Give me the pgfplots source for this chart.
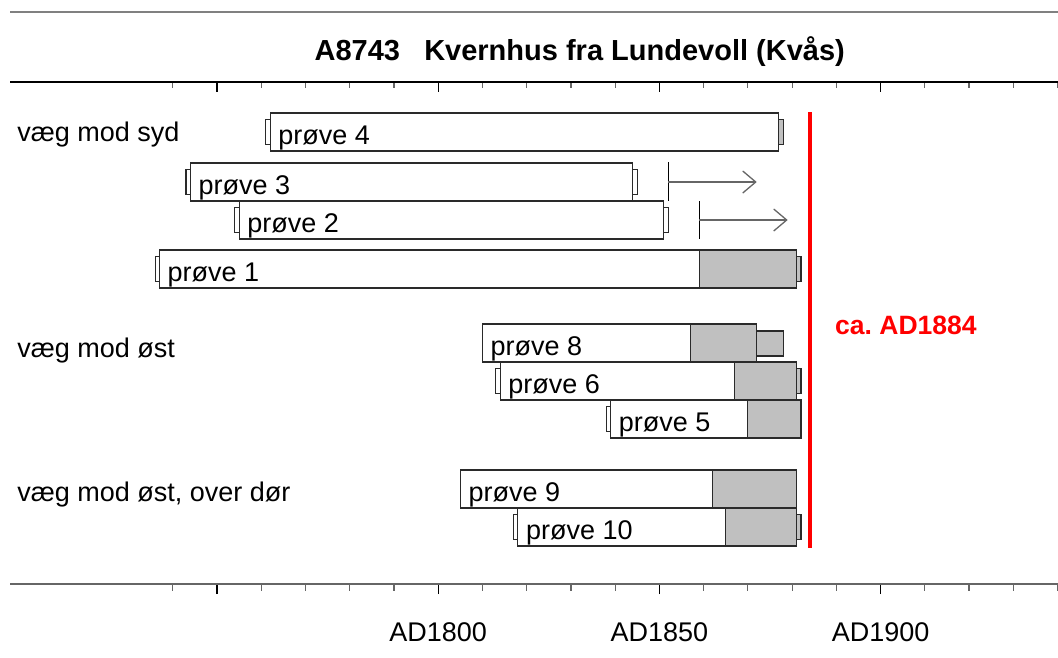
\documentclass[border=0pt]{standalone}
\usepackage{pgfplots}
\pgfplotsset{compat=1.18}
\usepackage{fontspec}
\setmainfont{Liberation Sans}
\usetikzlibrary{arrows.meta}
\definecolor{barfill}{HTML}{C0C0C0}
\definecolor{edge}{HTML}{2A2A2A}
\newcommand{\seg}[5]{\addplot[fill=#5, draw=edge, line width=1.2pt, line join=miter] coordinates {(#1,#3) (#2,#3) (#2,#4) (#1,#4)} -- cycle;}
\newcommand{\lab}[3]{\node[anchor=base west, inner sep=0pt, xshift=8pt] at (axis cs:#1,#2) {#3};}
\begin{document}
\fontsize{27}{32}\selectfont
\begin{tikzpicture}
\path[use as bounding box] (-10pt,-73pt) rectangle (1048pt,584pt);
\pgfplotsset{base/.style={scale only axis, width=1048pt, height=502pt,
  at={(0pt,0pt)}, anchor=south west,
  xmin=1703.2, xmax=1940.1, ymin=82, ymax=584, y dir=reverse,
  axis y line=none, ytick=\empty,
  xtick={1750,1800,1850,1900},
  minor xtick={1740,1760,1770,1780,1790,1810,1820,1830,1840,1860,1870,1880,1890,1910,1920,1930,1940},
  major tick length=10pt, minor tick length=6.5pt,
  every major tick/.append style={black, line width=1.4pt},
  every minor tick/.append style={black!60, line width=1.2pt},
  clip=false}}
\begin{axis}[base, axis x line=bottom, xtick align=outside,
  x axis line style={-, black!60, line width=1.5pt},
  xticklabels={,AD1800,AD1850,AD1900},
  xticklabel style={anchor=base, yshift=-47pt}]
% top grey rule
\draw[black!50, line width=2pt] (axis cs:1703.2,12) -- (axis cs:1940.1,12);
\node[anchor=base, font=\fontsize{29}{34}\selectfont\bfseries] at (axis cs:1832,60) {A8743\ \ \ Kvernhus fra Lundevoll (Kvås)};
% group labels
\node[anchor=base west, inner sep=0pt] at (axis cs:1704.8,141) {væg mod syd};
\node[anchor=base west, inner sep=0pt] at (axis cs:1704.8,357) {væg mod øst};
\node[anchor=base west, inner sep=0pt] at (axis cs:1704.8,501) {væg mod øst, over dør};
% prøve 4
\seg{1762}{1877}{113}{151}{white}
\seg{1761}{1762}{119.5}{144.5}{white}
\seg{1877}{1878}{119.5}{144.5}{barfill}
\lab{1762}{144.5}{prøve 4}
% prøve 3
\seg{1744}{1844}{163}{201}{white}
\seg{1743}{1744}{169.5}{194.5}{white}
\seg{1844}{1845}{169.5}{194.5}{white}
\lab{1744}{194.5}{prøve 3}
\addplot[black, line width=1.2pt] coordinates {(1852,162) (1852,201)};
\addplot[black!60, line width=1.3pt, -{Straight Barb[length=13pt, width=22pt]}] coordinates {(1852,182) (1872,182)};
% prøve 2
\seg{1755}{1851}{201}{239}{white}
\seg{1754}{1755}{207.5}{232.5}{white}
\seg{1851}{1852}{207.5}{232.5}{white}
\lab{1755}{232.5}{prøve 2}
\addplot[black, line width=1.2pt] coordinates {(1859,201) (1859,239)};
\addplot[black!60, line width=1.3pt, -{Straight Barb[length=13pt, width=22pt]}] coordinates {(1859,220) (1879,220)};
% prøve 1
\seg{1737}{1881}{250}{288}{white}
\seg{1859}{1881}{250}{288}{barfill}
\seg{1736}{1737}{256.5}{281.5}{white}
\seg{1881}{1882}{256.5}{281.5}{barfill}
\lab{1737}{281.5}{prøve 1}
% prøve 8
\seg{1810}{1872}{324}{362}{white}
\seg{1857}{1872}{324}{362}{barfill}
\seg{1872}{1878}{331}{356}{barfill}
\lab{1810}{355.5}{prøve 8}
% prøve 6
\seg{1814}{1881}{362}{400}{white}
\seg{1867}{1881}{362}{400}{barfill}
\seg{1813}{1814}{368.5}{393.5}{white}
\seg{1881}{1882}{368.5}{393.5}{barfill}
\lab{1814}{393.5}{prøve 6}
% prøve 5
\seg{1839}{1882}{400}{438}{white}
\seg{1870}{1882}{400}{438}{barfill}
\seg{1838}{1839}{406.5}{431.5}{white}
\lab{1839}{431.5}{prøve 5}
% prøve 9
\seg{1805}{1881}{470}{508}{white}
\seg{1862}{1881}{470}{508}{barfill}
\lab{1805}{501.5}{prøve 9}
% prøve 10
\seg{1818}{1881}{508}{546}{white}
\seg{1865}{1881}{508}{546}{barfill}
\seg{1817}{1818}{514.5}{539.5}{white}
\seg{1881}{1882}{514.5}{539.5}{barfill}
\lab{1818}{539.5}{prøve 10}
% felling line
\addplot[red, line width=3.5pt] coordinates {(1884,112) (1884,548)};
\node[anchor=base west, inner sep=0pt, text=red, font=\fontsize{26.5}{30}\selectfont\bfseries] at (axis cs:1889.7,334) {ca.\ AD1884};
\end{axis}
\begin{axis}[base, axis x line=top, xtick align=inside,
  x axis line style={-, black, line width=1.5pt},
  xticklabels={}]
\end{axis}
\end{tikzpicture}
\end{document}
